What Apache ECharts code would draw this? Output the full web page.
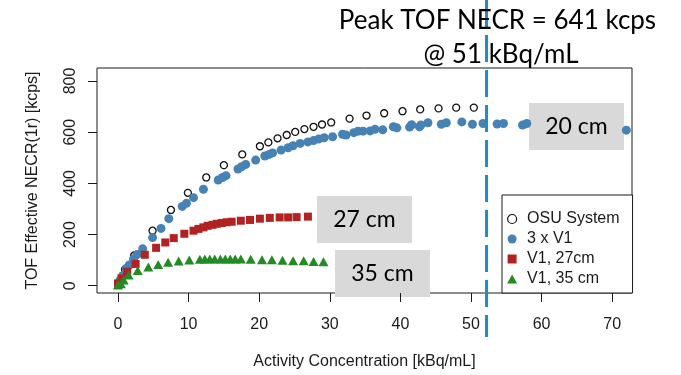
<!DOCTYPE html>
<html>
<head>
<meta charset="utf-8">
<script src="https://cdn.jsdelivr.net/npm/echarts@6/dist/echarts.min.js"></script>
<style>html,body{margin:0;padding:0;background:#fff}#c{width:681px;height:375px}</style>
</head>
<body>
<div id="c"></div>
<script>
// ---- data ----
const xTicks = [0, 10, 20, 30, 40, 50, 60, 70];
const yTicks = [0, 200, 400, 600, 800];

const osuX = [1.0, 2.3, 4.9, 7.5, 9.9, 12.5, 15.0, 17.6, 20.1, 21.3, 22.6, 23.9, 25.1, 26.4, 27.7, 28.9, 30.2, 32.8, 35.2, 37.7, 40.3, 42.8, 45.4, 47.9, 50.4];
const osuY = [64, 118, 215, 296, 363, 423, 471, 513, 545, 560, 576, 589, 601, 612, 621, 630, 638, 653, 665, 674, 682, 689, 693, 696, 696];

const v3X = [0.3, 0.7, 1.2, 1.6, 2.2, 2.7, 3.5, 4.9, 6.1, 7.2, 9.1, 9.7, 10.7, 12.1, 14.2, 14.8, 15.3, 17.0, 17.5, 18.1, 19.5, 20.8, 21.4, 21.9, 23.1, 24.1, 24.8, 25.8, 26.9, 27.7, 28.4, 29.2, 30.4, 31.8, 32.3, 33.4, 34.0, 34.7, 35.7, 36.4, 37.5, 39.0, 39.5, 41.3, 41.6, 42.7, 42.9, 43.9, 45.8, 46.5, 48.7, 50.2, 51.7, 53.7, 54.6, 57.3, 57.9, 72.0];
const v3Y = [22, 40, 68, 81, 104, 122, 144, 188, 224, 262, 310, 322, 344, 377, 413, 423, 430, 456, 465, 474, 491, 507, 513, 519, 530, 539, 547, 556, 562, 567, 573, 578, 582, 592, 589, 598, 604, 604, 605, 611, 609, 621, 617, 620, 629, 621, 628, 637, 631, 637, 640, 631, 634, 632, 634, 628, 634, 608];

const v27X = [0.0, 0.5, 1.3, 2.5, 3.8, 5.4, 6.7, 7.9, 9.4, 10.7, 11.4, 12.1, 12.7, 13.4, 14.0, 14.7, 15.4, 16.1, 17.4, 18.7, 20.1, 21.5, 22.9, 24.1, 25.3, 26.9];
const v27Y = [9, 29, 55, 85, 121, 148, 169, 186, 203, 215, 222, 228, 234, 238, 242, 245, 248, 250, 254, 257, 262, 265, 267, 267, 268, 270];

const v35X = [0.0, 0.4, 0.8, 1.5, 2.8, 4.3, 5.7, 7.1, 8.6, 10.1, 11.6, 12.3, 13.0, 13.7, 14.5, 15.2, 15.9, 16.6, 17.4, 18.8, 20.4, 21.8, 23.3, 24.8, 26.3, 27.7, 29.1];
const v35Y = [3, 8, 22, 42, 59, 73, 83, 92, 97, 100, 103, 104, 104, 104, 104, 104, 104, 104, 104, 103, 101, 101, 99, 98, 98, 95, 94];

const seriesNames = ['OSU System', '3 x V1', 'V1, 27cm', 'V1, 35 cm'];
const peakX = 52.2;
const titleLines = ['Peak TOF NECR = 641 kcps', '@ 51 kBq/mL'];
const boxLabels = ['20 cm', '27 cm', '35 cm'];
const xName = 'Activity Concentration [kBq/mL]';
const yName = 'TOF Effective NECR(1r) [kcps]';

// ---- chart ----
const zip = (xs, ys) => xs.map((x, i) => [x, ys[i]]);
const AX = "'Liberation Sans', Arial, sans-serif";
const CAL = "Lato, 'Open Sans', sans-serif";
const ink = '#1a1a1a';

const ICON_CIRCLE = 'path://M5,0A5,5,0,1,1,5,10A5,5,0,1,1,5,0Z';
const ICON_SQUARE = 'path://M0,0L10,0L10,10L0,10Z';
const ICON_TRI = 'path://M5,0L10,9L0,9Z';

const chart = echarts.init(document.getElementById('c'), null, {renderer: 'canvas'});

const axisCommon = {
  axisLine: {show: false, onZero: false},
  axisTick: {show: true, length: 9, lineStyle: {color: ink, width: 1}},
  splitLine: {show: false},
  nameTextStyle: {color: ink, fontFamily: AX, fontSize: 16},
};

chart.setOption({
  animation: false,
  backgroundColor: '#fff',
  grid: {left: 97, right: 49, top: 68, bottom: 82, show: true, borderColor: ink, borderWidth: 1, backgroundColor: 'transparent'},
  xAxis: Object.assign({}, axisCommon, {
    type: 'value', min: -2.97, max: 72.8,
    axisTick: Object.assign({}, axisCommon.axisTick, {customValues: xTicks}),
    axisLabel: {customValues: xTicks, color: ink, fontFamily: AX, fontSize: 16, margin: 24},
    name: xName, nameLocation: 'middle', nameGap: 61,
  }),
  yAxis: Object.assign({}, axisCommon, {
    type: 'value', min: -28.5, max: 850.8,
    axisTick: Object.assign({}, axisCommon.axisTick, {customValues: yTicks}),
    axisLabel: {customValues: yTicks, color: ink, fontFamily: AX, fontSize: 16, rotate: 90, margin: 18},
    name: yName, nameLocation: 'middle', nameGap: 56,
  }),
  legend: {
    orient: 'vertical', left: 502, top: 195,
    padding: [16, 13, 6, 5],
    itemWidth: 20, itemHeight: 9, itemGap: 4,
    symbolKeepAspect: true,
    backgroundColor: '#fff', borderColor: ink, borderWidth: 1, borderRadius: 0,
    textStyle: {color: ink, fontFamily: AX, fontSize: 16, lineHeight: 16},
    data: [
      {name: seriesNames[0], icon: ICON_CIRCLE, itemStyle: {borderWidth: 1.2}},
      {name: seriesNames[1], icon: ICON_CIRCLE},
      {name: seriesNames[2], icon: ICON_SQUARE},
      {name: seriesNames[3], icon: ICON_TRI},
    ],
  },
  series: [
    {name: seriesNames[0], type: 'scatter', symbol: 'circle', symbolSize: 7,
     itemStyle: {color: 'rgba(255,255,255,0)', borderColor: '#111', borderWidth: 1.3, opacity: 1},
     data: zip(osuX, osuY), z: 2},
    {name: seriesNames[1], type: 'scatter', symbol: 'circle', symbolSize: 9,
     itemStyle: {color: '#4682B4', opacity: 1},
     data: zip(v3X, v3Y), z: 3},
    {name: seriesNames[2], type: 'scatter', symbol: 'rect', symbolSize: 8,
     itemStyle: {color: '#B22222', opacity: 1},
     data: zip(v27X, v27Y), z: 4},
    {name: seriesNames[3], type: 'scatter', symbol: 'triangle', symbolSize: [10, 9],
     itemStyle: {color: '#228B22', opacity: 1},
     data: zip(v35X, v35Y), z: 5},
  ],
});

const px = chart.convertToPixel({xAxisIndex: 0}, peakX);
const box = (x, y, label) => ({
  type: 'group', z: 100, children: [
    {type: 'rect', shape: {x: x, y: y, width: 95, height: 47}, style: {fill: '#d9d9d9'}},
    {type: 'text', x: x + 47.5, y: y + 24, style: {text: label, fill: '#000', font: "23px " + CAL, align: 'center', verticalAlign: 'middle'}},
  ]
});
chart.setOption({
  graphic: [
    {type: 'line', z: 90, shape: {x1: px, y1: 0, x2: px, y2: 337},
     style: {stroke: '#1b8dc8', lineWidth: 3, lineDash: [27, 8]}},
    {type: 'text', z: 100, x: 497.5, y: 21, style: {text: titleLines[0], fill: '#000', font: "26px " + CAL, align: 'center', verticalAlign: 'middle'}},
    {type: 'text', z: 100, x: 501, y: 55, style: {text: titleLines[1], fill: '#000', font: "26px " + CAL, align: 'center', verticalAlign: 'middle'}},
    box(529, 103, boxLabels[0]),
    box(317, 196, boxLabels[1]),
    box(335, 250, boxLabels[2]),
  ]
});
</script>
</body>
</html>
